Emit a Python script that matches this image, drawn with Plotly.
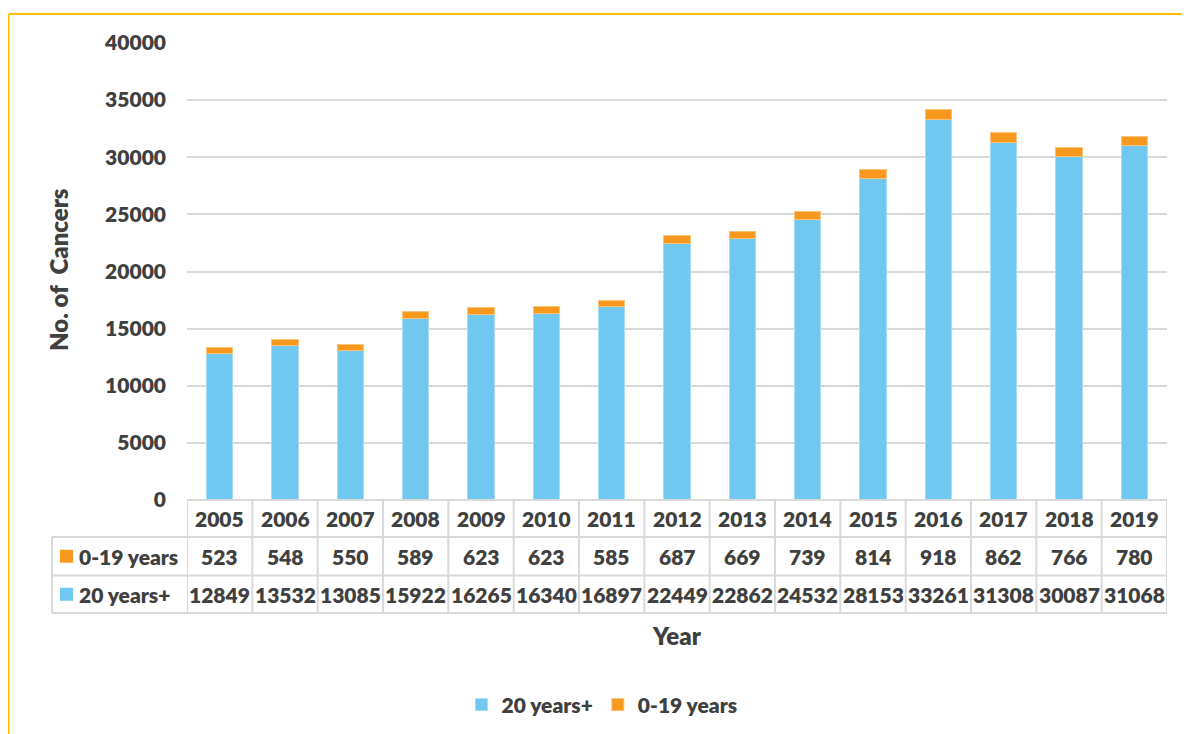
import plotly.graph_objects as go

years = ["2005", "2006", "2007", "2008", "2009", "2010", "2011", "2012",
         "2013", "2014", "2015", "2016", "2017", "2018", "2019"]
young = [523, 548, 550, 589, 623, 623, 585, 687, 669, 739, 814, 918, 862, 766, 780]
adult = [12849, 13532, 13085, 15922, 16265, 16340, 16897, 22449, 22862, 24532,
         28153, 33261, 31308, 30087, 31068]
series_names = ["20 years+", "0-19 years"]
blue = "#70C8F0"
orange = "#F7981F"
text_col = "#404040"
grid_col = "#D9D9D9"
FONT = "Lato"
FS = 21
FT = 24
WT = 800

W, H = 1190, 734
OFF = 8  # page offset of the figure inside the browser window
PL, PR, PT, PB = 187, 1167, 43, 500
L, T = PL - OFF, PT - OFF
R = W - (PR - OFF)
B = H - (PB - OFF)
pw, ph = PR - PL, PB - PT


def px_x(p):
    return (p - PL) / pw


def px_y(p):
    return (PB - p) / ph


fig = go.Figure()
fig.add_trace(go.Bar(x=years, y=adult, name=series_names[0], marker_color=blue,
                     marker_line=dict(color="#A9DDF5", width=1), width=0.4))
fig.add_trace(go.Bar(x=years, y=young, name=series_names[1], marker_color=orange,
                     marker_line=dict(color="#FBC27A", width=1), width=0.4))

shapes = []
annotations = []
line = dict(color=grid_col, width=2)
row_b = [500, 537, 575.5, 613]
yb = [px_y(p) for p in row_b]
n = len(years)
shapes.append(dict(type="line", xref="x", yref="paper", x0=-0.5, x1=n - 0.5, y0=yb[0], y1=yb[0], line=line))
for yy in yb[1:]:
    shapes.append(dict(type="line", xref="paper", yref="paper", x0=px_x(52), x1=1, y0=yy, y1=yy, line=line))
for i in range(n + 1):
    shapes.append(dict(type="line", xref="x", yref="paper", x0=i - 0.5, x1=i - 0.5, y0=yb[0], y1=yb[3], line=line))
shapes.append(dict(type="line", xref="paper", yref="paper", x0=px_x(52), x1=px_x(52), y0=yb[1], y1=yb[3], line=line))

tf = dict(family=FONT, size=FS, color=text_col, weight=WT)
for i, yr in enumerate(years):
    for r, val in enumerate([yr, young[i], adult[i]]):
        annotations.append(dict(x=i, y=(yb[r] + yb[r + 1]) / 2, xref="x", yref="paper", text=f"{val}",
                                showarrow=False, font=tf, xanchor="center", yanchor="middle"))

for r, (name, col) in enumerate([(series_names[1], orange), (series_names[0], blue)]):
    ymid = (yb[r + 1] + yb[r + 2]) / 2
    shapes.append(dict(type="rect", xref="paper", yref="paper", x0=px_x(60), x1=px_x(73),
                       y0=ymid - 6.5 / ph, y1=ymid + 6.5 / ph, fillcolor=col, line=dict(width=0)))
    annotations.append(dict(x=px_x(77), y=ymid, xref="paper", yref="paper", text=name,
                            showarrow=False, font=tf, xanchor="left", yanchor="middle"))

tt = dict(family=FONT, size=FT, color=text_col, weight=WT)
annotations.append(dict(x=px_x(58), y=px_y(270), xref="paper", yref="paper", text="No. of&nbsp; Cancers",
                        textangle=-90, showarrow=False, font=tt, xanchor="center", yanchor="middle"))
annotations.append(dict(x=px_x(677), y=px_y(635), xref="paper", yref="paper", text="Year",
                        showarrow=False, font=tt, xanchor="center", yanchor="middle"))

frame = dict(color="#FFC000", width=2)
shapes.append(dict(type="line", xref="paper", yref="paper", x0=px_x(OFF + 0.5), x1=px_x(W + 20),
                   y0=px_y(14), y1=px_y(14), line=frame))
shapes.append(dict(type="line", xref="paper", yref="paper", x0=px_x(OFF + 0.5), x1=px_x(OFF + 0.5),
                   y0=px_y(14), y1=px_y(H + 20), line=frame))

fig.update_layout(
    width=W, height=H,
    margin=dict(l=L, r=R, t=T, b=B),
    barmode="stack",
    plot_bgcolor="white", paper_bgcolor="white",
    font=dict(family=FONT, size=FS, color=text_col, weight=WT),
    showlegend=True,
    legend=dict(orientation="h", x=px_x(602), xanchor="center", y=px_y(705), yanchor="middle",
                font=dict(family=FONT, size=FS, color=text_col, weight=WT), traceorder="normal"),
    shapes=shapes,
    annotations=annotations,
)
fig.update_xaxes(type="category", showticklabels=False, showgrid=False, showline=False, ticks="",
                 range=[-0.5, n - 0.5])
fig.update_yaxes(range=[0, 40000], showgrid=True, gridcolor=grid_col, gridwidth=2,
                 showline=False, zeroline=False, ticks="", ticklabelstandoff=20,
                 tickfont=dict(family=FONT, size=FS, color=text_col, weight=WT),
                 tickvals=list(range(0, 40001, 5000)),
                 ticktext=[str(v) for v in range(0, 40001, 5000)])

fig.write_html("out.html")
